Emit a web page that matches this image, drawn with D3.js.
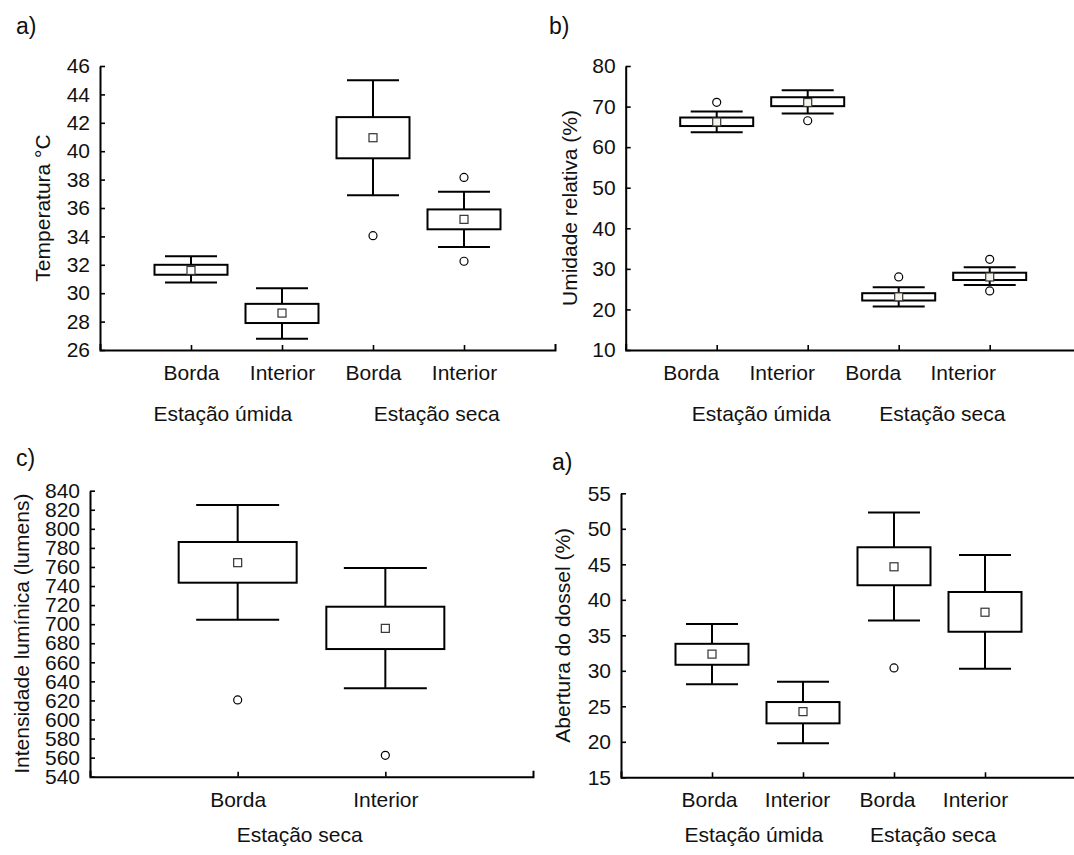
<!DOCTYPE html>
<html>
<head>
<meta charset="utf-8">
<script src="https://cdn.jsdelivr.net/npm/d3@7"></script>
<style>
  html, body { margin: 0; padding: 0; background: #fff; }
  svg { display: block; }
  text { font-family: "Liberation Sans", Arial, sans-serif; fill: #111; }
</style>
</head>
<body>
<svg id="chart" width="1074" height="855"></svg>
<script>
// ---------- DATA ----------
const categories = ["Borda", "Interior", "Borda", "Interior"];
const groups = ["Estação úmida", "Estação seca"];
const categoriesC = ["Borda", "Interior"];
const groupsC = ["Estação seca"];

// a) Temperatura
const tempTicks = [26, 28, 30, 32, 34, 36, 38, 40, 42, 44, 46];
const tempMin   = [30.75, 26.8, 36.9, 33.25];
const tempQ1    = [31.3, 27.9, 39.5, 34.5];
const tempMean  = [31.6, 28.6, 40.95, 35.2];
const tempQ3    = [32.0, 29.25, 42.4, 35.9];
const tempMax   = [32.6, 30.35, 45.0, 37.15];
const tempOutliers = [[], [], [34.05], [38.15, 32.25]];

// b) Umidade relativa
const humTicks = [10, 20, 30, 40, 50, 60, 70, 80];
const humMin   = [63.7, 68.3, 20.7, 26.0];
const humQ1    = [65.2, 70.1, 22.2, 27.25];
const humMean  = [66.2, 71.0, 23.1, 28.0];
const humQ3    = [67.3, 72.3, 24.0, 29.05];
const humMax   = [68.8, 74.0, 25.45, 30.4];
const humOutliers = [[71.05], [66.5], [28.0], [32.35, 24.55]];

// c) Intensidade lumínica
const luxTicks = [540, 560, 580, 600, 620, 640, 660, 680, 700, 720, 740, 760, 780, 800, 820, 840];
const luxMin   = [704.7, 632.7];
const luxQ1    = [743.5, 673.9];
const luxMean  = [764.5, 695.6];
const luxQ3    = [786.2, 718.3];
const luxMax   = [825.0, 758.9];
const luxOutliers = [[620.5], [562.4]];

// d) Abertura do dossel
const canTicks = [15, 20, 25, 30, 35, 40, 45, 50, 55];
const canMin   = [28.1, 19.8, 37.1, 30.3];
const canQ1    = [30.85, 22.6, 42.05, 35.5];
const canMean  = [32.35, 24.25, 44.65, 38.25];
const canQ3    = [33.8, 25.6, 47.4, 41.1];
const canMax   = [36.6, 28.45, 52.3, 46.3];
const canOutliers = [[], [], [30.4], []];

// ---------- DRAW ----------
const svg = d3.select("#chart");
const FONT = 21;

function drawPanel(p) {
  const g = svg.append("g");
  const x = d3.scaleLinear().domain(p.xDomain).range([p.left, p.right]);
  const y = d3.scaleLinear().domain(p.yDomain).range([p.bottom, p.top]);
  const idx = p.cats.map((_, i) => i + 1);

  // y axis
  const ya = g.append("g")
    .attr("transform", `translate(${p.left},0)`)
    .call(d3.axisLeft(y).tickValues(p.yTicks).tickFormat(d3.format("d"))
      .tickSizeInner(-5).tickSizeOuter(0).tickPadding(10));
  ya.select(".domain").attr("stroke", "#000").attr("stroke-width", 2);
  ya.selectAll(".tick line").attr("stroke", "#000").attr("stroke-width", 1.6);
  ya.selectAll(".tick text").attr("font-size", FONT).attr("font-family", "Liberation Sans, Arial, sans-serif").attr("fill", "#111");

  // x axis
  const xa = g.append("g")
    .attr("transform", `translate(0,${p.bottom})`)
    .call(d3.axisBottom(x).tickValues(idx).tickFormat(d => p.cats[d - 1])
      .tickSizeInner(-5).tickSizeOuter(-6).tickPadding(p.catPad));
  xa.select(".domain").attr("stroke", "#000").attr("stroke-width", 2);
  xa.selectAll(".tick line").attr("stroke", "#000").attr("stroke-width", 1.6);
  xa.selectAll(".tick text").attr("font-size", FONT).attr("font-family", "Liberation Sans, Arial, sans-serif").attr("fill", "#111")
    .attr("dx", (d, i) => p.catDx[i]);

  // group labels
  g.selectAll("text.grp").data(p.groups).join("text")
    .attr("class", "grp")
    .attr("x", (d, i) => x(p.groupPos[i]))
    .attr("y", p.bottom + p.grpOffset)
    .attr("text-anchor", "middle")
    .attr("font-size", FONT)
    .text(d => d);

  // y title
  g.append("text")
    .attr("transform", `translate(${p.titleX},${(p.top + p.bottom) / 2}) rotate(-90)`)
    .attr("text-anchor", "middle")
    .attr("dy", "0.35em")
    .attr("font-size", FONT)
    .text(p.title);

  // boxes
  const data = idx.map((c, i) => ({
    c, min: p.min[i], q1: p.q1[i], mean: p.mean[i], q3: p.q3[i], max: p.max[i], out: p.out[i]
  }));
  const bw = p.boxW, cw = p.capW;
  const bx = g.selectAll("g.box").data(data).join("g").attr("class", "box");
  bx.append("line")
    .attr("x1", d => x(d.c)).attr("x2", d => x(d.c))
    .attr("y1", d => y(d.max)).attr("y2", d => y(d.q3))
    .attr("stroke", "#000").attr("stroke-width", 2);
  bx.append("line")
    .attr("x1", d => x(d.c)).attr("x2", d => x(d.c))
    .attr("y1", d => y(d.q1)).attr("y2", d => y(d.min))
    .attr("stroke", "#000").attr("stroke-width", 2);
  bx.append("line")
    .attr("x1", d => x(d.c) - cw / 2).attr("x2", d => x(d.c) + cw / 2)
    .attr("y1", d => y(d.max)).attr("y2", d => y(d.max))
    .attr("stroke", "#000").attr("stroke-width", 2);
  bx.append("line")
    .attr("x1", d => x(d.c) - cw / 2).attr("x2", d => x(d.c) + cw / 2)
    .attr("y1", d => y(d.min)).attr("y2", d => y(d.min))
    .attr("stroke", "#000").attr("stroke-width", 2);
  bx.append("rect")
    .attr("x", d => x(d.c) - bw / 2).attr("width", bw)
    .attr("y", d => y(d.q3)).attr("height", d => y(d.q1) - y(d.q3))
    .attr("fill", "#fff").attr("stroke", "#000").attr("stroke-width", 2);
  bx.append("rect")
    .attr("x", d => x(d.c) - 4).attr("y", d => y(d.mean) - 4)
    .attr("width", 8).attr("height", 8)
    .attr("fill", p.meanFill).attr("stroke", "#333").attr("stroke-width", 1.2);
  bx.selectAll("circle").data(d => d.out.map(v => ({ c: d.c, v }))).join("circle")
    .attr("cx", d => x(d.c)).attr("cy", d => y(d.v)).attr("r", 4)
    .attr("fill", "#fff").attr("stroke", "#000").attr("stroke-width", 1.2);

  svg.append("text")
    .attr("x", p.letterX).attr("y", p.letterY)
    .attr("font-family", "Open Sans, Liberation Sans, sans-serif")
    .attr("font-size", 23)
    .text(p.letter);
}

drawPanel({
  letter: "a)", letterX: 16, letterY: 34,
  left: 100, right: 555, top: 66, bottom: 350,
  xDomain: [0, 5], yDomain: [26, 46], yTicks: tempTicks,
  cats: categories, catDx: [0, 0, 0, 0], groups: groups, groupPos: [1.35, 3.7],
  catPad: 15, grpOffset: 71, titleX: 43, title: "Temperatura °C",
  min: tempMin, q1: tempQ1, mean: tempMean, q3: tempQ3, max: tempMax, out: tempOutliers,
  boxW: 73, capW: 52, meanFill: "#fff"
});

drawPanel({
  letter: "b)", letterX: 549, letterY: 34,
  left: 625.7, right: 1080.7, top: 66, bottom: 350,
  xDomain: [0, 5], yDomain: [10, 80], yTicks: humTicks,
  cats: categories, catDx: [-26, -26, -26, -27], groups: groups, groupPos: [1.49, 3.48],
  catPad: 15, grpOffset: 71, titleX: 570, title: "Umidade relativa (%)",
  min: humMin, q1: humQ1, mean: humMean, q3: humQ3, max: humMax, out: humOutliers,
  boxW: 73, capW: 52, meanFill: "#f6f3ea"
});

drawPanel({
  letter: "c)", letterX: 16, letterY: 466,
  left: 90, right: 533, top: 490.7, bottom: 776.7,
  xDomain: [0, 3], yDomain: [540, 840], yTicks: luxTicks,
  cats: categoriesC, catDx: [0, 0], groups: groupsC, groupPos: [1.42],
  catPad: 15, grpOffset: 65, titleX: 22, title: "Intensidade lumínica (lumens)",
  min: luxMin, q1: luxQ1, mean: luxMean, q3: luxQ3, max: luxMax, out: luxOutliers,
  boxW: 118, capW: 83, meanFill: "#fff"
});

drawPanel({
  letter: "a)", letterX: 552, letterY: 470,
  left: 621, right: 1076, top: 493.3, bottom: 777.3,
  xDomain: [0, 5], yDomain: [15, 55], yTicks: canTicks,
  cats: categories, catDx: [-3, -6, -7, -10], groups: groups, groupPos: [1.46, 3.43],
  catPad: 15, grpOffset: 65, titleX: 563, title: "Abertura do dossel (%)",
  min: canMin, q1: canQ1, mean: canMean, q3: canQ3, max: canMax, out: canOutliers,
  boxW: 73, capW: 52, meanFill: "#fff"
});
</script>
</body>
</html>
